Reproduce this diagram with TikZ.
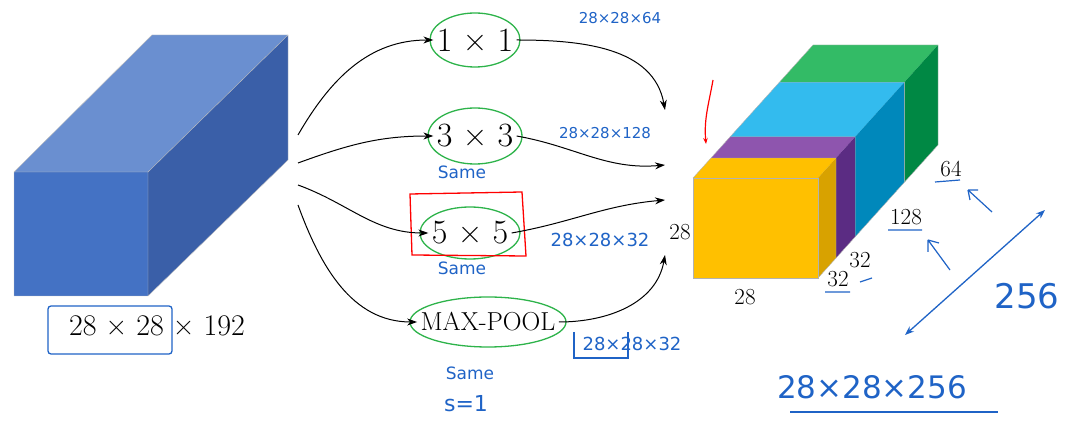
\documentclass[tikz,border=0pt]{standalone}
\usepackage{fontspec}
\newfontfamily\hand{DejaVu Sans}
\usetikzlibrary{arrows.meta}
\definecolor{ink}{HTML}{1F63C6}
\definecolor{grn}{HTML}{2DB34A}
\definecolor{bTop}{HTML}{6A8FD0}
\definecolor{bSide}{HTML}{3A5FA8}
\definecolor{bFront}{HTML}{4472C4}
\definecolor{gTop}{HTML}{33BB66}
\definecolor{gSide}{HTML}{008844}
\definecolor{cTop}{HTML}{33BBEE}
\definecolor{cSide}{HTML}{0088BB}
\definecolor{pTop}{HTML}{8E55AE}
\definecolor{pSide}{HTML}{5B2C83}
\definecolor{yFront}{HTML}{FFC000}
\definecolor{ySide}{HTML}{D8A200}
\tikzset{
 conv/.style={font=\fontsize{34}{36}\selectfont},
 hw/.style={text=ink,font=\hand\fontsize{15}{16}\selectfont},
 arr/.style={-{Stealth[length=10pt,width=7pt]},line width=1pt},
 loop/.style={grn,line width=1.3pt},
 dim/.style={font=\fontsize{23}{24}\selectfont}
}
\newcommand{\slab}[4]{%
 \fill[#3] ({693+120*#1},{178-133*#1}) -- ({818+120*#1},{178-133*#1}) -- ({818+120*#2},{178-133*#2}) -- ({693+120*#2},{178-133*#2}) -- cycle;
 \fill[#4] ({818+120*#1},{178-133*#1}) -- ({818+120*#1},{278-133*#1}) -- ({818+120*#2},{278-133*#2}) -- ({818+120*#2},{178-133*#2}) -- cycle;
 \draw[gray!60,thin] ({693+120*#1},{178-133*#1}) -- ({693+120*#2},{178-133*#2}) -- ({818+120*#2},{178-133*#2}) -- ({818+120*#2},{278-133*#2}) -- ({818+120*#1},{278-133*#1});
}
\begin{document}
\begin{tikzpicture}[x=1pt,y=-1pt]
\useasboundingbox (0,0) rectangle (1080,443);
% left block
\fill[bTop] (14,172) -- (152,35) -- (288,35) -- (148,172) -- cycle;
\fill[bSide] (148,172) -- (288,35) -- (288,160) -- (148,296) -- cycle;
\fill[bFront] (14,172) rectangle (148,296);
\draw[gray!50] (14,172) -- (152,35) -- (288,35) -- (288,160) -- (148,296) -- (14,296) -- cycle (14,172) -- (148,172) -- (288,35) (148,172) -- (148,296);
\node[font=\fontsize{30}{32}\selectfont] (in) at (157,326) {28 × 28 × 192};
\draw[ink,line width=1.3pt,rounded corners=3pt] (48,306) rectangle (172,354);
% conv nodes
\node[conv] (c1) at (475,40) {1 × 1};
\node[conv] (c3) at (475,136) {3 × 3};
\node[conv] (c5) at (470,233) {5 × 5};
\node[font=\fontsize{26}{28}\selectfont] (mp) at (488,322) {MAX-POOL};
\draw[loop] (c1) ellipse (45pt and 27pt);
\draw[loop] (c3) ellipse (47pt and 28pt);
\draw[loop] (c5) ellipse (50pt and 26pt);
\draw[loop] (mp) ellipse (78pt and 25pt);
\draw[red,line width=1.3pt] (410,194) -- (522,192) -- (526,256) -- (412,255) -- cycle;
\draw[arr] (298,135) to[out=60,in=180] (c1.west);
\draw[arr] (298,163) to[out=20,in=180] (c3.west);
\draw[arr] (298,185) to[out=-20,in=180] (c5.west);
\draw[arr] (298,205) to[out=-70,in=180] (mp.west);
% output cube
\slab{0.72}{1}{gTop}{gSide}
\slab{0.31}{0.72}{cTop}{cSide}
\slab{0.15}{0.31}{pTop}{pSide}
\slab{0}{0.15}{yFront}{ySide}
\fill[yFront] (693,178) rectangle (818,278);
\draw[gray!60] (693,178) rectangle (818,278);
\coordinate (t1) at (665,110);
\coordinate (t2) at (665,165);
\coordinate (t3) at (665,200);
\coordinate (t4) at (665,255);
\draw[arr] (c1.east) to[out=0,in=100] (t1);
\draw[arr] (c3.east) to[out=-10,in=185] (t2);
\draw[arr] (c5.east) to[out=10,in=185] (t3);
\draw[arr] (mp.east) to[out=0,in=-100] (t4);
\node[dim] (d28a) at (680,232) {28};
\node[dim] (d28b) at (745,297) {28};
\node[dim] (d32a) at (838,279) {32};
\node[dim] (d32b) at (860,260) {32};
\node[dim] (d128) at (906,217) {128};
\node[dim] (d64) at (951,169) {64};
\draw[ink,line width=1.2pt] (825,292) -- (850,292) (860,282) -- (872,278) (888,230) -- (922,230) (935,182) -- (960,180);
\draw[ink,line width=1.2pt] (968,190) -- (992,212) (968,190) -- (970,200) (968,190) -- (978,190);
\draw[ink,line width=1.2pt] (928,240) -- (950,270) (928,240) -- (928,252) (928,240) -- (939,243);
% red arrow
\draw[red,line width=1.2pt,-{Stealth[length=6pt]}] (713,80) to[out=-100,in=95] (706,144);
% handwritten
\node[hw] (h1) at (620,18) {28×28×64};
\node[hw] (h2) at (605,133) {28×28×128};
\node[hw,font=\hand\fontsize{18}{19}\selectfont] (h3) at (600,240) {28×28×32};
\node[hw,font=\hand\fontsize{18}{19}\selectfont] (h4) at (632,344) {28×28×32};
\draw[ink,line width=1.2pt] (574,332) -- (574,358) -- (628,358) -- (628,332);
\node[hw,font=\hand\fontsize{17}{18}\selectfont] (s1) at (462,172) {Same};
\node[hw,font=\hand\fontsize{17}{18}\selectfont] (s2) at (462,268) {Same};
\node[hw,font=\hand\fontsize{17}{18}\selectfont] (s3) at (470,373) {Same};
\node[hw,font=\hand\fontsize{22}{24}\selectfont] (s4) at (466,404) {s=1};
\node[hw,font=\hand\fontsize{34}{36}\selectfont] (h256) at (1027,296) {256};
\draw[ink,line width=1.3pt,{Stealth[length=9pt]}-{Stealth[length=9pt]}] (905,335) -- (1045,210);
\node[hw,font=\hand\fontsize{31}{33}\selectfont] (tot) at (872,387) {28×28×256};
\draw[ink,line width=1.3pt] (790,412) -- (998,412);
\end{tikzpicture}
\end{document}
